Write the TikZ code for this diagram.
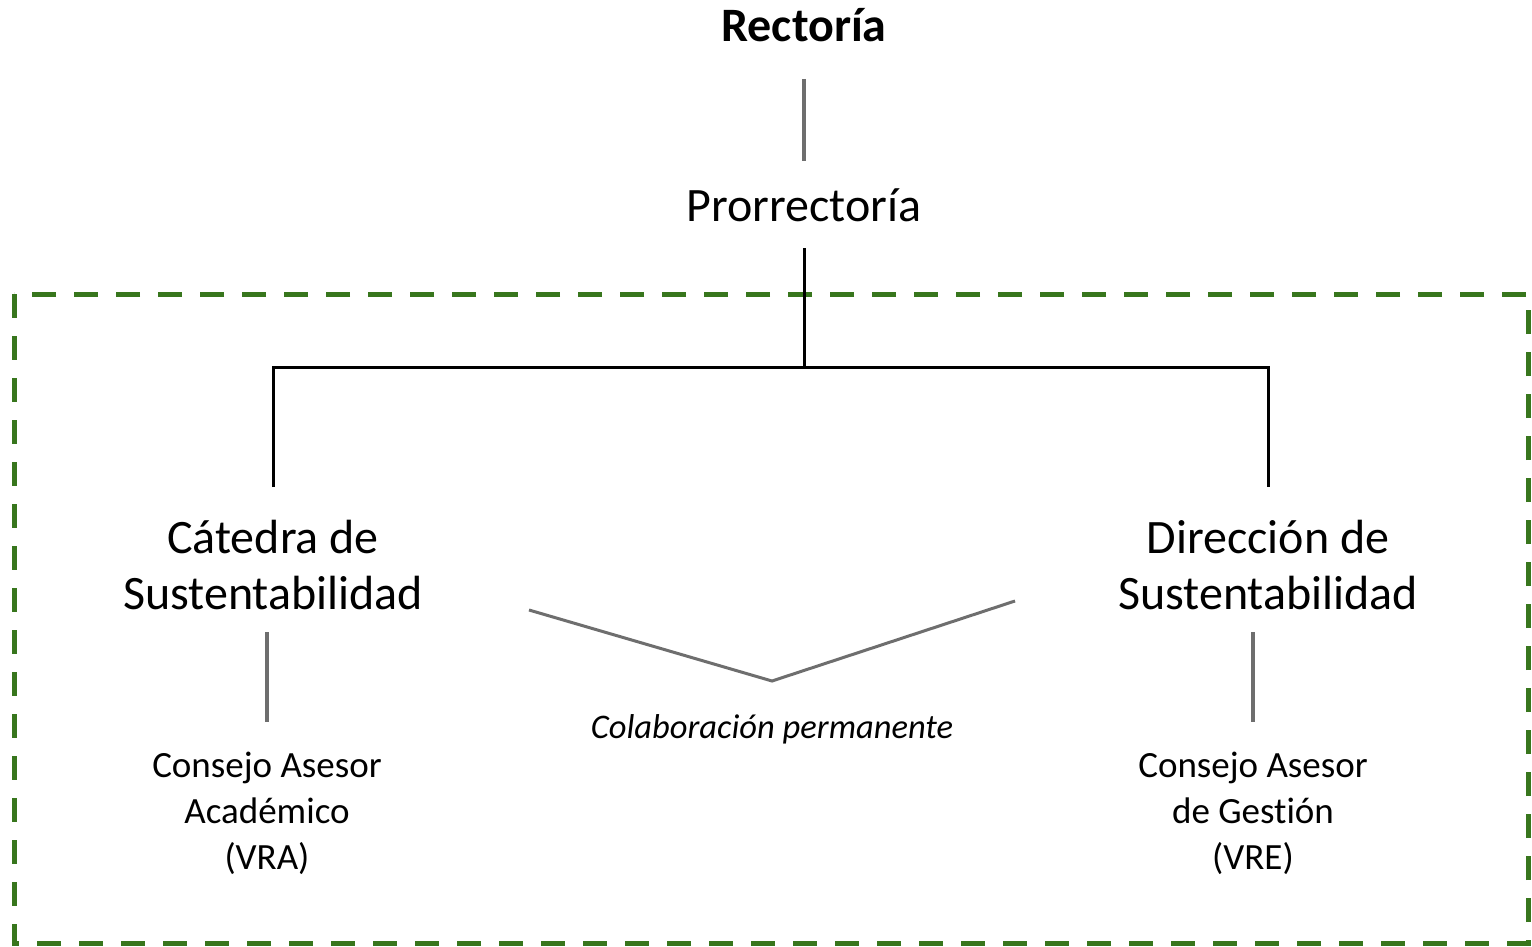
\documentclass[tikz,border=0pt]{standalone}
\usepackage{fontspec}
\setmainfont{Carlito}[Ligatures={NoCommon}]
\definecolor{lgray}{HTML}{6E6E6E}
\definecolor{dgreen}{HTML}{38761D}
\begin{document}
\begin{tikzpicture}[x=1pt,y=-1pt,
  big/.style={font=\fontsize{48}{56}\selectfont, align=center, inner sep=0pt},
  small/.style={font=\fontsize{37}{46}\selectfont, align=center, inner sep=0pt},
  grayline/.style={draw=lgray, line width=3.5pt},
  blackline/.style={draw=black, line width=3pt},
  frame/.style={draw=dgreen, line width=5pt, dash pattern=on 24pt off 18pt}]
\useasboundingbox (0,0) rectangle (1532,947);
\draw[frame] (14,294) rectangle (1528,943);
\node[font=\fontsize{48}{56}\selectfont\bfseries, inner sep=0pt] (rect) at (804,25) {Rectoría};
\node[big] (pror) at (804,205) {Prorrectoría};
\node[big] (cat) at (273,565) {Cátedra de\\Sustentabilidad};
\node[big] (dir) at (1268,565) {Dirección de\\Sustentabilidad};
\node[small] (caa) at (267,813) {Consejo Asesor\\Académico\\(VRA)};
\node[small] (cag) at (1253,813) {Consejo Asesor\\de Gestión\\(VRE)};
\node[small, font=\fontsize{34.5}{46}\selectfont\itshape] (colab) at (772,729) {Colaboración permanente};
\coordinate (r1) at (804,79); \coordinate (r2) at (804,161);
\draw[grayline] (r1) -- (r2);
\coordinate (p1) at (804,248); \coordinate (bus) at (804,367);
\coordinate (bl) at (273,367); \coordinate (br) at (1268,367);
\coordinate (cl) at (273,487); \coordinate (cr) at (1268,487);
\draw[blackline] (p1) -- (bus);
\draw[blackline] (cl) -- (bl) -- (br) -- (cr);
\coordinate (a1) at (267,632); \coordinate (a2) at (267,722);
\coordinate (g1) at (1253,632); \coordinate (g2) at (1253,722);
\draw[grayline] (a1) -- (a2);
\draw[grayline] (g1) -- (g2);
\coordinate (v1) at (529,610); \coordinate (v2) at (772,681); \coordinate (v3) at (1015,601);
\draw[draw=lgray, line width=3pt] (v1) -- (v2) -- (v3);
\end{tikzpicture}
\end{document}
